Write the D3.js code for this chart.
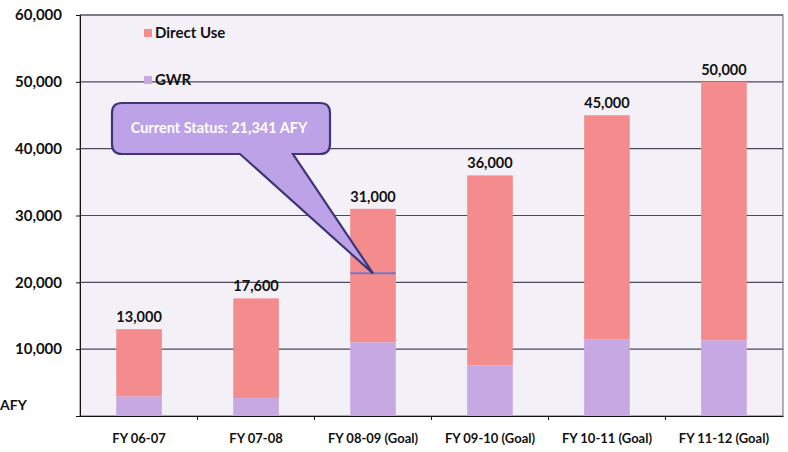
<!DOCTYPE html>
<html>
<head>
<meta charset="utf-8">
<script src="https://cdn.jsdelivr.net/npm/d3@7"></script>
<style>
  body { margin: 0; background: #fff; }
  text { font-family: Lato, "Open Sans", sans-serif; font-weight: bold; }
</style>
</head>
<body>
<div id="chart"></div>
<script>
const width = 788, height = 452;

// chart data
const years = ['FY 06-07', 'FY 07-08', 'FY 08-09 (Goal)', 'FY 09-10 (Goal)', 'FY 10-11 (Goal)', 'FY 11-12 (Goal)'];
const gwr = [2900, 2700, 11000, 7600, 11500, 11300];
const totals = [13000, 17600, 31000, 36000, 45000, 50000];
const yTicks = [10000, 20000, 30000, 40000, 50000, 60000];
const currentStatus = 21341;

const margin = {top: 15, right: 5, bottom: 36, left: 80};
const innerW = width - margin.left - margin.right,
      innerH = height - margin.top - margin.bottom;

const svg = d3.select('#chart').append('svg')
  .attr('width', width).attr('height', height);

const g = svg.append('g').attr('transform', `translate(${margin.left},${margin.top})`);

const x = d3.scaleBand().domain(years).range([0, innerW]).paddingInner(0.61).paddingOuter(0.31);
const y = d3.scaleLinear().domain([0, 60000]).range([innerH, 0]);

// plot background
g.append('rect')
  .attr('x', 0).attr('y', 0).attr('width', innerW).attr('height', innerH)
  .attr('fill', '#f4f0f8').attr('stroke', '#444').attr('stroke-width', 0.8);

// gridlines
g.selectAll('.grid').data(yTicks).join('line')
  .attr('x1', 0).attr('x2', innerW)
  .attr('y1', d => y(d)).attr('y2', d => y(d))
  .attr('stroke', '#4a4a5e').attr('stroke-width', 1.2);

// stacked bars: GWR bottom, Direct Use above
const stack = years.map((yr, i) => ({yr, gwr: gwr[i], total: totals[i]}));

g.selectAll('.direct').data(stack).join('rect')
  .attr('x', d => x(d.yr)).attr('width', x.bandwidth())
  .attr('y', d => y(d.total)).attr('height', d => y(d.gwr) - y(d.total))
  .attr('fill', '#f48c8e');

g.selectAll('.gwr').data(stack).join('rect')
  .attr('x', d => x(d.yr)).attr('width', x.bandwidth())
  .attr('y', d => y(d.gwr)).attr('height', d => innerH - y(d.gwr))
  .attr('fill', '#c6a8e2');

// value labels
g.selectAll('.val').data(stack).join('text')
  .attr('x', d => x(d.yr) + x.bandwidth() / 2)
  .attr('y', d => y(d.total) - 7)
  .attr('text-anchor', 'middle')
  .attr('font-size', 14.5).attr('fill', '#111')
  .text(d => d3.format(',')(d.total));

// current status marker in FY 08-09
const cs = years[2];
g.append('line')
  .attr('x1', x(cs)).attr('x2', x(cs) + x.bandwidth())
  .attr('y1', y(currentStatus)).attr('y2', y(currentStatus))
  .attr('stroke', '#7c74c0').attr('stroke-width', 2);

// y axis
const yAxis = g.append('g').call(d3.axisLeft(y).tickValues(yTicks).tickSize(4).tickFormat(d3.format(',')));
yAxis.select('.domain').attr('stroke', '#111');
yAxis.selectAll('.tick line').attr('stroke', '#111');
yAxis.selectAll('.tick text').attr('x', -18).attr('dy', '0.32em')
  .attr('font-size', 15).attr('fill', '#111')
  .style('font-family', 'Lato, sans-serif').style('font-weight', 'bold');

g.append('text').attr('x', -margin.left).attr('y', innerH - 6)
  .attr('font-size', 14).attr('fill', '#111').text('AFY');

// x axis
const xAxis = g.append('g').attr('transform', `translate(0,${innerH})`)
  .call(d3.axisBottom(x).tickSize(0).tickPadding(18));
xAxis.select('.domain').attr('stroke', '#111');
xAxis.selectAll('.tick text').attr('font-size', 13).attr('fill', '#111')
  .style('font-family', 'Lato, sans-serif').style('font-weight', 'bold');
// ticks between categories
const step = x.step();
g.selectAll('.xt').data(d3.range(1, years.length)).join('line')
  .attr('x1', i => x(years[i]) - (step - x.bandwidth()) / 2)
  .attr('x2', i => x(years[i]) - (step - x.bandwidth()) / 2)
  .attr('y1', innerH).attr('y2', innerH + 4)
  .attr('stroke', '#111');

// legend
const legend = [{name: 'Direct Use', color: '#f48c8e', yy: 33}, {name: 'GWR', color: '#c6a8e2', yy: 80}];
const lg = svg.selectAll('.lg').data(legend).join('g')
  .attr('transform', d => `translate(144,${d.yy})`);
lg.append('rect').attr('x', 0).attr('y', -4).attr('width', 8).attr('height', 8).attr('fill', d => d.color);
lg.append('text').attr('x', 11).attr('dy', '0.35em').attr('font-size', 15).attr('fill', '#111').text(d => d.name);

// callout
const px = margin.left + x(cs) + x.bandwidth() / 2, py = margin.top + y(currentStatus);
const bx = 112, by = 103, bw = 218, bh = 51, r = 10;
const path = d3.path();
path.moveTo(bx + r, by);
path.lineTo(bx + bw - r, by);
path.quadraticCurveTo(bx + bw, by, bx + bw, by + r);
path.lineTo(bx + bw, by + bh - r);
path.quadraticCurveTo(bx + bw, by + bh, bx + bw - r, by + bh);
path.lineTo(bx + 181, by + bh);
path.lineTo(px, py);
path.lineTo(bx + 128, by + bh);
path.lineTo(bx + r, by + bh);
path.quadraticCurveTo(bx, by + bh, bx, by + bh - r);
path.lineTo(bx, by + r);
path.quadraticCurveTo(bx, by, bx + r, by);
path.closePath();
svg.append('path').attr('d', path.toString())
  .attr('fill', '#bda2e8').attr('stroke', '#3c3778').attr('stroke-width', 2.2);
svg.append('text').attr('x', bx + bw / 2 - 2).attr('y', by + 30)
  .attr('text-anchor', 'middle').attr('font-size', 14.5).attr('fill', '#fff')
  .text('Current Status: 21,341 AFY');
</script>
</body>
</html>
